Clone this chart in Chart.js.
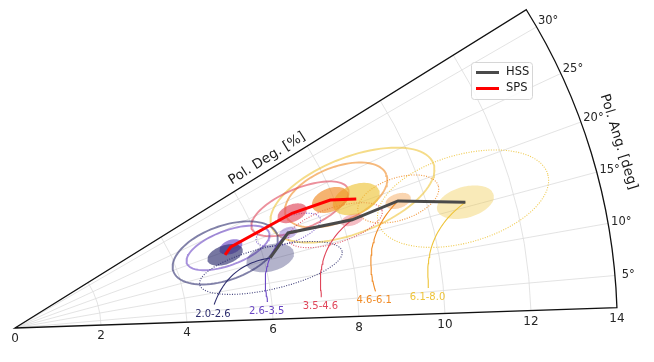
<!DOCTYPE html>
<html>
<head>
<meta charset="utf-8">
<script src="https://cdn.jsdelivr.net/npm/chart.js@4.4.1/dist/chart.umd.min.js"></script>
<style>
  html, body { margin: 0; padding: 0; background: #fff; }
  #wrap { width: 654px; height: 362px; }
</style>
</head>
<body>
<div id="wrap"><canvas id="polChart" width="654" height="362"></canvas></div>
<script>
// DATA
const bins = ['2.0-2.6', '2.6-3.5', '3.5-4.6', '4.6-6.1', '6.1-8.0'];
const binColors = ['#2d2d6e', '#6a46c4', '#e0465a', '#f08a24', '#eec43a'];

// HSS: pol. degree [%], pol. angle [deg], error ellipse semi-axes [%]
const hssDeg = [6.15, 6.72, 8.23, 9.38, 10.87];
const hssAng = [15.35, 19.2, 17.8, 18.35, 15.6];
const hssErrA = [0.57, 0.22, 0.27, 0.31, 0.68];
const hssErrB = [0.31, 0.13, 0.13, 0.17, 0.36];
// HSS contours (dotted)
const hssContDeg = [6.11, 6.75, 7.82, 9.40, 10.84];
const hssContAng = [13.2, 19.75, 17.8, 18.6, 16.1];
const hssContA = [1.70, 0.79, 1.14, 0.98, 2.05];
const hssContB = [0.49, 0.30, 0.41, 0.49, 1.02];

// SPS
const spsDeg = [5.17, 5.36, 6.97, 7.91, 8.48];
const spsAng = [19.2, 20.6, 22.5, 22.1, 20.7];
const spsErrA = [0.43, 0.28, 0.36, 0.45, 0.57];
const spsErrB = [0.22, 0.16, 0.20, 0.27, 0.34];
// SPS contours (solid)
const spsContDeg = [5.19, 5.29, 7.18, 8.08, 8.43];
const spsContAng = [19.65, 20.6, 22.7, 22.5, 21.5];
const spsContA = [1.28, 1.02, 1.21, 1.26, 2.02];
const spsContB = [0.63, 0.40, 0.47, 0.63, 0.88];

// axes
const rTicks = [0, 2, 4, 6, 8, 10, 12, 14];
const thetaTicks = [5, 10, 15, 20, 25, 30];
const thetaMin = 1.93, thetaMax = 31.9, rMax = 14;

// HELPERS
const RAD = Math.PI / 180;
const PX = 43.02;
const toXY = (r, deg) => ({ x: r * Math.cos(deg * RAD), y: r * Math.sin(deg * RAD) });

function ellipsePts(r, deg, a, b) {
    const c = toXY(r, deg), ca = Math.cos(deg * RAD), sa = Math.sin(deg * RAD);
    const pts = [];
    for (let i = 0; i <= 90; i++) {
        const t = i / 90 * 2 * Math.PI;
        const u = a * Math.cos(t), v = b * Math.sin(t);
        pts.push({ x: c.x + u * ca - v * sa, y: c.y + u * sa + v * ca });
    }
    return pts;
}

// curved leader (like arc3) from label to point
function leaderPts(s, e, f) {
    const mx = (s.x + e.x) / 2, my = (s.y + e.y) / 2;
    const dx = e.x - s.x, dy = e.y - s.y;
    const c = { x: mx - f * dy, y: my + f * dx };
    const pts = [];
    for (let i = 0; i <= 30; i++) {
        const t = i / 30, m = 1 - t;
        pts.push({ x: m * m * s.x + 2 * m * t * c.x + t * t * e.x, y: m * m * s.y + 2 * m * t * c.y + t * t * e.y });
    }
    return pts;
}

function alpha(hex, a) {
    const n = parseInt(hex.slice(1), 16);
    return `rgba(${n >> 16},${(n >> 8) & 255},${n & 255},${a})`;
}

// label anchors (data units) for the bin annotations
const labelPos = [
    { x: 4.60, y: 0.325 }, { x: 5.85, y: 0.395 }, { x: 7.10, y: 0.51 },
    { x: 8.35, y: 0.63 }, { x: 9.59, y: 0.72 }
];

// DATASETS
const datasets = [];
datasets.push({ label: 'HSS', data: hssDeg.map((r, i) => toXY(r, hssAng[i])), borderColor: '#4a4a4a', borderWidth: 3, order: 0 });
datasets.push({ label: 'SPS', data: spsDeg.map((r, i) => toXY(r, spsAng[i])), borderColor: '#ff0000', borderWidth: 3, order: 0 });

bins.forEach((b, i) => {
    const col = binColors[i];
    const start = { x: labelPos[i].x + 0.03, y: labelPos[i].y + 0.22 };
    datasets.push({ label: 'lead ' + b, data: leaderPts(start, toXY(hssDeg[i], hssAng[i]), 0.3), borderColor: col, borderWidth: 1.1, order: 1 });
    datasets.push({ label: 'SPS err ' + b, data: ellipsePts(spsDeg[i], spsAng[i], spsErrA[i], spsErrB[i]),
        borderColor: 'rgba(0,0,0,0)', borderWidth: 0, backgroundColor: alpha(col, 0.65), fill: 'shape', order: 2 });
    datasets.push({ label: 'HSS err ' + b, data: ellipsePts(hssDeg[i], hssAng[i], hssErrA[i], hssErrB[i]),
        borderColor: 'rgba(0,0,0,0)', borderWidth: 0, backgroundColor: alpha(col, 0.36), fill: 'shape', order: 3 });
    datasets.push({ label: 'SPS cont ' + b, data: ellipsePts(spsContDeg[i], spsContAng[i], spsContA[i], spsContB[i]),
        borderColor: alpha(col, 0.6), borderWidth: 1.9, order: 4 });
    datasets.push({ label: 'HSS cont ' + b, data: ellipsePts(hssContDeg[i], hssContAng[i], hssContA[i], hssContB[i]),
        borderColor: alpha(col, 0.9), borderWidth: 1.1, borderDash: [1, 1.5], order: 4 });
});

datasets.forEach(d => { d.showLine = true; d.pointRadius = 0; d.tension = 0; if (d.fill === undefined) d.fill = false; });

// POLAR WEDGE (grid, frame, labels, legend)
const polarWedge = {
    id: 'polarWedge',
    beforeDatasetsDraw(chart) {
        const { ctx, scales: { x, y } } = chart;
        const ox = x.getPixelForValue(0), oy = y.getPixelForValue(0);
        const unit = x.getPixelForValue(1) - ox;
        ctx.save();
        ctx.strokeStyle = '#dcdcdc';
        ctx.lineWidth = 0.8;
        rTicks.filter(r => r > 0 && r < rMax).forEach(r => {
            ctx.beginPath();
            ctx.arc(ox, oy, r * unit, -thetaMax * RAD, -thetaMin * RAD);
            ctx.stroke();
        });
        thetaTicks.forEach(t => {
            const p = toXY(rMax, t);
            ctx.beginPath();
            ctx.moveTo(ox, oy);
            ctx.lineTo(x.getPixelForValue(p.x), y.getPixelForValue(p.y));
            ctx.stroke();
        });
        ctx.restore();
    },
    afterDatasetsDraw(chart) {
        const { ctx, scales: { x, y } } = chart;
        const ox = x.getPixelForValue(0), oy = y.getPixelForValue(0);
        const unit = x.getPixelForValue(1) - ox;
        const P = (r, t) => { const p = toXY(r, t); return [x.getPixelForValue(p.x), y.getPixelForValue(p.y)]; };
        ctx.save();
        // frame
        ctx.strokeStyle = '#111';
        ctx.lineWidth = 1.3;
        ctx.beginPath();
        ctx.moveTo(ox, oy);
        ctx.lineTo(...P(rMax, thetaMin));
        ctx.arc(ox, oy, rMax * unit, -thetaMin * RAD, -thetaMax * RAD, true);
        ctx.closePath();
        ctx.stroke();

        // tick labels
        ctx.fillStyle = '#262626';
        ctx.font = '12px "DejaVu Sans"';
        ctx.textAlign = 'center';
        ctx.textBaseline = 'middle';
        rTicks.forEach(r => {
            const [px, py] = P(r, thetaMin);
            ctx.fillText(String(r), px, py + 11);
        });
        ctx.font = '11.5px "DejaVu Sans"';
        thetaTicks.forEach(t => {
            const [px, py] = P(rMax + 0.31, t);
            ctx.fillText(t + '°', px, py + 1);
        });

        // axis titles
        ctx.font = '13.5px "DejaVu Sans"';
        ctx.fillStyle = '#1a1a1a';
        let [tx, ty] = P(7.06, 33.9);
        ctx.save(); ctx.translate(tx, ty); ctx.rotate(-thetaMax * RAD); ctx.fillText('Pol. Deg. [%]', 0, 0); ctx.restore();
        [tx, ty] = P(14.68, 17.15);
        ctx.save(); ctx.translate(tx, ty); ctx.rotate((90 - 17.15) * RAD); ctx.fillText('Pol. Ang. [deg]', 0, 0); ctx.restore();

        // bin labels
        ctx.font = '10px "DejaVu Sans"';
        bins.forEach((b, i) => {
            ctx.fillStyle = binColors[i];
            ctx.fillText(b, x.getPixelForValue(labelPos[i].x), y.getPixelForValue(labelPos[i].y));
        });

        // legend
        const lx = 471.5, ly = 62.5, lw = 61, lh = 37, rr = 3;
        ctx.beginPath();
        ctx.moveTo(lx + rr, ly); ctx.lineTo(lx + lw - rr, ly); ctx.quadraticCurveTo(lx + lw, ly, lx + lw, ly + rr);
        ctx.lineTo(lx + lw, ly + lh - rr); ctx.quadraticCurveTo(lx + lw, ly + lh, lx + lw - rr, ly + lh);
        ctx.lineTo(lx + rr, ly + lh); ctx.quadraticCurveTo(lx, ly + lh, lx, ly + lh - rr);
        ctx.lineTo(lx, ly + rr); ctx.quadraticCurveTo(lx, ly, lx + rr, ly);
        ctx.fillStyle = 'rgba(255,255,255,0.85)';
        ctx.fill();
        ctx.strokeStyle = '#d6d6d6';
        ctx.lineWidth = 1;
        ctx.stroke();
        [['HSS', '#4a4a4a', 72.5], ['SPS', '#ff0000', 88.5]].forEach(([t, c, yy]) => {
            ctx.strokeStyle = c; ctx.lineWidth = 3;
            ctx.beginPath(); ctx.moveTo(476, yy); ctx.lineTo(499, yy); ctx.stroke();
            ctx.fillStyle = '#1a1a1a';
            ctx.font = '11.5px "DejaVu Sans"';
            ctx.textAlign = 'left';
            ctx.fillText(t, 506, yy);
        });
        ctx.restore();
    }
};

// CHART
new Chart(document.getElementById('polChart'), {
    type: 'scatter',
    data: { datasets },
    options: {
        responsive: false,
        animation: false,
        devicePixelRatio: 1,
        layout: { padding: 0 },
        plugins: { legend: { display: false }, tooltip: { enabled: false } },
        scales: {
            x: { type: 'linear', display: false, min: -15 / PX, max: 639 / PX },
            y: { type: 'linear', display: false, min: -34 / PX, max: 328 / PX }
        }
    },
    plugins: [polarWedge]
});
</script>
</body>
</html>
